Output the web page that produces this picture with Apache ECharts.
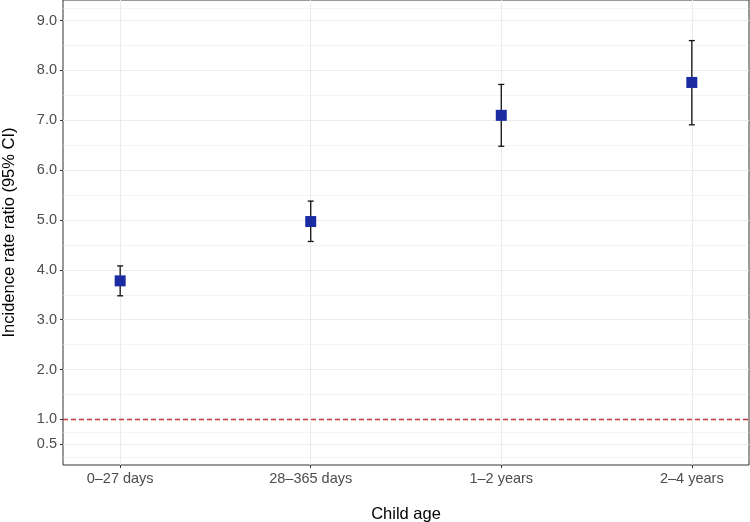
<!DOCTYPE html>
<html>
<head>
<meta charset="utf-8">
<script src="https://cdn.jsdelivr.net/npm/echarts@6/dist/echarts.min.js"></script>
<style>
  html, body { margin: 0; padding: 0; background: #fff; }
  #main { width: 750px; height: 522px; }
</style>
</head>
<body>
<div id="main"></div>
<script>
var ages = ['0–27 days', '28–365 days', '1–2 years', '2–4 years'];
var irr = [3.78, 4.97, 7.10, 7.76];
var lower = [3.48, 4.57, 6.48, 6.91];
var upper = [4.08, 5.38, 7.72, 8.60];
var xTicks = [0, 1, 2, 3];
var yTicks = [0.5, 1, 2, 3, 4, 5, 6, 7, 8, 9];
var yMinor = [0.25, 0.75, 1.5, 2.5, 3.5, 4.5, 5.5, 6.5, 7.5, 8.5, 9.25];
var refLine = 1;

var font = 'Liberation Sans, Arial, Helvetica, sans-serif';

var myChart = echarts.init(document.getElementById('main'));

// grid lines as mark lines so they sit exactly at ggplot's breaks
var gridLines = [];
yMinor.forEach(function (v) {
    gridLines.push({ yAxis: v, lineStyle: { color: '#EBEBEB', width: 0.6, type: 'solid' } });
});
yTicks.forEach(function (v) {
    if (v === refLine) return;
    gridLines.push({ yAxis: v, lineStyle: { color: '#EBEBEB', width: 1.1, type: 'solid' } });
});
xTicks.forEach(function (v) {
    gridLines.push({ xAxis: v, lineStyle: { color: '#EBEBEB', width: 1.1, type: 'solid' } });
});

var refStyle = { color: '#C0393B', width: 1.3, type: [5, 3], opacity: 1 };

var option = {
    animation: false,
    backgroundColor: '#fff',
    grid: {
        left: 63, right: 1, top: 0, bottom: 57,
        outerBoundsMode: 'none',
        containLabel: false,
        show: true,
        backgroundColor: '#fff',
        borderColor: '#333333',
        borderWidth: 1
    },
    xAxis: {
        type: 'value',
        min: -0.3,
        max: 3.3,
        name: 'Child age',
        nameLocation: 'middle',
        nameGap: 41,
        nameTextStyle: { fontFamily: font, fontSize: 16.5, color: '#000' },
        axisLine: { show: false, onZero: false },
        axisTick: { show: true, length: 3, customValues: xTicks, lineStyle: { color: '#333333', width: 1 } },
        axisLabel: {
            customValues: xTicks,
            margin: 6,
            fontFamily: font,
            fontSize: 14.5,
            color: '#4D4D4D',
            formatter: function (v) { return ages[Math.round(v)]; }
        },
        splitLine: { show: false }
    },
    yAxis: {
        type: 'value',
        min: 0.086,
        max: 9.414,
        name: 'Incidence rate ratio (95% CI)',
        nameLocation: 'middle',
        nameGap: 45,
        nameTextStyle: { fontFamily: font, fontSize: 16.5, color: '#000' },
        axisLine: { show: false, onZero: false },
        axisTick: { show: true, length: 3, customValues: yTicks, lineStyle: { color: '#333333', width: 1 } },
        axisLabel: {
            customValues: yTicks,
            margin: 6,
            fontFamily: font,
            fontSize: 14.5,
            color: '#4D4D4D',
            formatter: function (v) { return v.toFixed(1); }
        },
        splitLine: { show: false }
    },
    series: [
        {
            type: 'line',
            data: [],
            z: 0,
            silent: true,
            markLine: {
                z: 0,
                silent: true,
                symbol: ['none', 'none'],
                label: { show: false },
                data: gridLines
            }
        },
        {
            type: 'custom',
            z: 3,
            silent: true,
            data: ages.map(function (a, i) { return [i, lower[i], upper[i]]; }),
            encode: { x: 0, y: [1, 2] },
            renderItem: function (params, api) {
                var x = api.value(0);
                var lo = api.coord([x, api.value(1)]);
                var hi = api.coord([x, api.value(2)]);
                var hw = 3;
                var st = { stroke: '#111111', lineWidth: 1.3 };
                return {
                    type: 'group',
                    children: [
                        { type: 'line', shape: { x1: lo[0], y1: lo[1], x2: hi[0], y2: hi[1] }, style: st },
                        { type: 'line', shape: { x1: lo[0] - hw, y1: lo[1], x2: lo[0] + hw, y2: lo[1] }, style: st },
                        { type: 'line', shape: { x1: hi[0] - hw, y1: hi[1], x2: hi[0] + hw, y2: hi[1] }, style: st }
                    ]
                };
            }
        },
        {
            type: 'scatter',
            z: 4,
            symbol: 'rect',
            symbolSize: 11,
            itemStyle: { color: '#1B2CA3', opacity: 1 },
            data: irr.map(function (v, i) { return [i, v]; }),
            markLine: {
                silent: true,
                symbol: ['none', 'none'],
                label: { show: false },
                lineStyle: refStyle,
                data: [{ yAxis: refLine, lineStyle: refStyle }]
            }
        }
    ]
};
myChart.setOption(option);
</script>
</body>
</html>
